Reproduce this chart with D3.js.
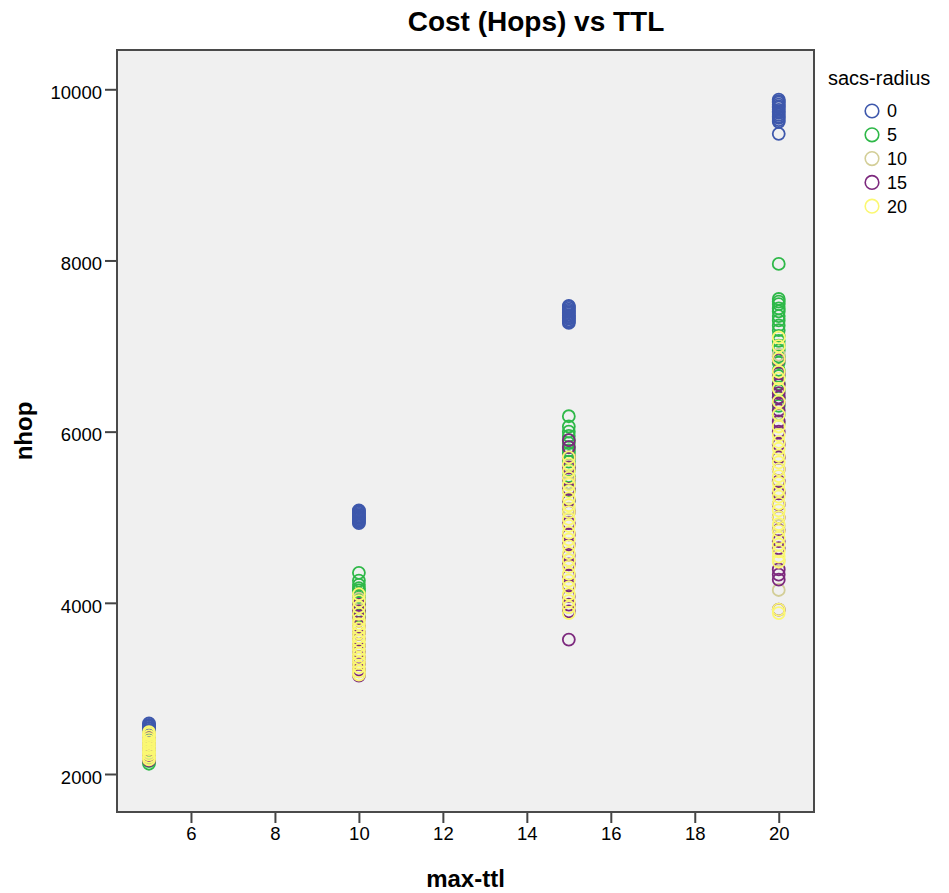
<!DOCTYPE html>
<html>
<head>
<meta charset="utf-8">
<title>Cost (Hops) vs TTL</title>
<script src="https://cdn.jsdelivr.net/npm/d3@7"></script>
<style>
    body { margin: 0; background: #ffffff; }
    text { font-family: "Liberation Sans", Arial, sans-serif; fill: #000; }
</style>
</head>
<body>
<div id="chart"></div>
<script>

/* * * * * * * * * * * * * *
*         DATA             *
* * * * * * * * * * * * * */

const maxTtl = [5, 10, 15, 20];
const sacsRadius = [0, 5, 10, 15, 20];
const xTicks = [6, 8, 10, 12, 14, 16, 18, 20];
const yTicks = [2000, 4000, 6000, 8000, 10000];

// nhop values, one list per max-ttl (5, 10, 15, 20)
const nhop_r0 = [
    [2450, 2475, 2490, 2505, 2515, 2530, 2540, 2555, 2565, 2575, 2590],
    [4930, 4945, 4960, 4975, 4990, 5000, 5010, 5025, 5040, 5055, 5070, 5080],
    [7270, 7285, 7300, 7320, 7335, 7350, 7360, 7380, 7395, 7410, 7425, 7445, 7460, 7470],
    [9480, 9620, 9640, 9665, 9680, 9700, 9725, 9740, 9760, 9785, 9800, 9820, 9845, 9860, 9880]
];
const nhop_r5 = [
    [2120, 2150, 2190, 2230, 2265, 2300, 2340, 2385, 2420],
    [3850, 3905, 3950, 3990, 4025, 4060, 4085, 4110, 4145, 4170, 4210, 4260, 4350],
    [5200, 5310, 5400, 5480, 5550, 5605, 5650, 5700, 5745, 5780, 5820, 5865, 5900, 5950, 6000, 6060, 6180],
    [6100, 6200, 6300, 6395, 6480, 6560, 6650, 6720, 6805, 6880, 6950, 7005, 7060, 7120, 7185, 7240, 7300, 7350, 7405, 7440, 7490, 7520, 7550, 7960]
];
const nhop_r10 = [
    [2180, 2250, 2320, 2380, 2440],
    [3200, 3350, 3500, 3650, 3800, 3950, 4050],
    [3950, 4200, 4500, 4800, 5100, 5400, 5600],
    [4150, 4500, 4900, 5300, 5700, 6100, 6500, 6900]
];
const nhop_r15 = [
    [2160, 2220, 2290, 2350, 2420],
    [3150, 3220, 3290, 3360, 3430, 3500, 3580, 3650, 3730, 3820, 3900, 3980],
    [3570, 3900, 3980, 4080, 4200, 4320, 4450, 4560, 4680, 4800, 4930, 5060, 5200, 5330, 5450, 5580, 5700, 5820, 5900],
    [3920, 4270, 4330, 4390, 4640, 4720, 4850, 5000, 5150, 5280, 5420, 5560, 5700, 5850, 6000, 6120, 6250, 6330, 6400, 6450, 6550, 6680, 6840]
];
const nhop_r20 = [
    [2170, 2200, 2230, 2260, 2290, 2320, 2350, 2380, 2410, 2440, 2470, 2490],
    [3160, 3200, 3250, 3300, 3350, 3400, 3450, 3500, 3550, 3600, 3650, 3700, 3750, 3800, 3870, 3950, 4020, 4100],
    [3880, 3950, 4020, 4100, 4180, 4260, 4340, 4420, 4500, 4580, 4660, 4740, 4820, 4900, 4980, 5060, 5140, 5220, 5300, 5380, 5460, 5540, 5620, 5700],
    [3880, 3920, 4480, 4540, 4600, 4680, 4760, 4840, 4920, 5000, 5080, 5160, 5240, 5320, 5400, 5480, 5560, 5640, 5720, 5800, 5880, 5960, 6060, 6200, 6350, 6500, 6620, 6700, 6850, 7000, 7100]
];
const colors = ["#3e58ac", "#2eb848", "#d3ce97", "#7c287d", "#fbf873"];


/* * * * * * * * * * * * * *
*         CHART            *
* * * * * * * * * * * * * */

const width = 949;
const height = 893;
const plot = {left: 117, right: 814, top: 50, bottom: 812};

const svg = d3.select("#chart").append("svg")
    .attr("width", width)
    .attr("height", height);

const x = d3.scaleLinear()
    .domain([4.238, 20.84])
    .range([plot.left, plot.right]);

const y = d3.scaleLinear()
    .domain([1556, 10459])
    .range([plot.bottom, plot.top]);

// flatten into points, series order = draw order
const allSeries = [nhop_r0, nhop_r5, nhop_r10, nhop_r15, nhop_r20];
let points = [];
allSeries.forEach((series, si) => {
    series.forEach((vals, ti) => {
        vals.forEach(v => points.push({ttl: maxTtl[ti], nhop: v, radius: sacsRadius[si]}));
    });
});

const color = d3.scaleOrdinal()
    .domain(sacsRadius)
    .range(colors);

// plot background
svg.append("rect")
    .attr("x", plot.left)
    .attr("y", plot.top)
    .attr("width", plot.right - plot.left)
    .attr("height", plot.bottom - plot.top)
    .attr("fill", "#f0f0f0");

// axes
const xAxis = svg.append("g")
    .attr("transform", "translate(0," + plot.bottom + ")")
    .call(d3.axisBottom(x).tickValues(xTicks).tickSize(11).tickPadding(4).tickFormat(d3.format("d")));

const yAxis = svg.append("g")
    .attr("transform", "translate(" + plot.left + ",0)")
    .call(d3.axisLeft(y).tickValues(yTicks).tickSize(12).tickPadding(3).tickFormat(d3.format("d")));

[xAxis, yAxis].forEach(a => {
    a.select(".domain").remove();
    a.selectAll(".tick line").attr("stroke", "#444").attr("stroke-width", 2);
    a.selectAll(".tick text")
        .attr("fill", "#222")
        .style("font-family", "'Liberation Sans', Arial, sans-serif")
        .style("font-size", "18.5px");
});
yAxis.selectAll(".tick text").attr("dy", "0.5em");

// points
svg.append("g")
    .selectAll("circle")
    .data(points)
    .join("circle")
    .attr("cx", d => x(d.ttl))
    .attr("cy", d => y(d.nhop))
    .attr("r", 6)
    .attr("fill", "none")
    .attr("stroke", d => color(d.radius))
    .attr("stroke-width", 1.8);

// frame
svg.append("rect")
    .attr("x", plot.left)
    .attr("y", plot.top)
    .attr("width", plot.right - plot.left)
    .attr("height", plot.bottom - plot.top)
    .attr("fill", "none")
    .attr("stroke", "#4a4a4a")
    .attr("stroke-width", 2);

// titles
svg.append("text")
    .attr("x", 536)
    .attr("y", 31)
    .attr("text-anchor", "middle")
    .style("font-size", "28px")
    .style("font-weight", "bold")
    .text("Cost (Hops) vs TTL");

svg.append("text")
    .attr("x", (plot.left + plot.right) / 2)
    .attr("y", 887)
    .attr("text-anchor", "middle")
    .style("font-size", "24px")
    .style("font-weight", "bold")
    .text("max-ttl");

svg.append("text")
    .attr("transform", "translate(32," + ((plot.top + plot.bottom) / 2) + ") rotate(-90)")
    .attr("text-anchor", "middle")
    .style("font-size", "24px")
    .style("font-weight", "bold")
    .text("nhop");


/* * * * * * * * * * * * * *
*         LEGEND           *
* * * * * * * * * * * * * */

svg.append("text")
    .attr("x", 828)
    .attr("y", 85)
    .attr("fill", "#222")
    .style("font-size", "20px")
    .text("sacs-radius");

const legend = svg.append("g")
    .selectAll("g")
    .data(sacsRadius)
    .join("g")
    .attr("transform", (d, i) => "translate(872," + (111 + i * 23.8) + ")");

legend.append("circle")
    .attr("r", 6.8)
    .attr("fill", "none")
    .attr("stroke", d => color(d))
    .attr("stroke-width", 1.6);

legend.append("text")
    .attr("x", 15)
    .attr("dy", "0.36em")
    .attr("fill", "#222")
    .style("font-size", "18px")
    .text(d => d);

</script>
</body>
</html>
